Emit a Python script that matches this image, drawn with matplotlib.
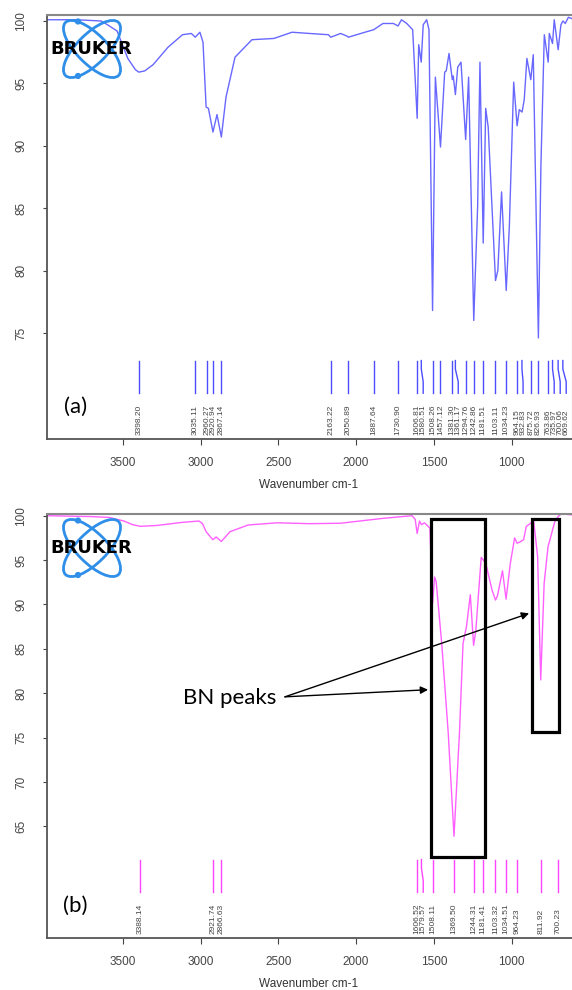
import matplotlib
matplotlib.use("Agg")
import matplotlib.pyplot as plt
import matplotlib.transforms as mtransforms
from matplotlib.patches import Ellipse, Circle, Rectangle


# panel (a): spectrum (wavenumber, % transmittance)
wn_a = [3992, 3800, 3640, 3600, 3538, 3469, 3420, 3398, 3360, 3306, 3210,
        3117, 3060, 3035, 3005, 2985, 2965, 2950, 2921, 2895, 2867, 2837,
        2779, 2670, 2529, 2412, 2300, 2178, 2163, 2100, 2060, 2050, 1943,
        1887, 1827, 1760, 1730, 1708, 1674, 1636, 1607, 1597, 1581, 1568,
        1546, 1531, 1508, 1490, 1457, 1430, 1420, 1402, 1381, 1375, 1361,
        1346, 1325, 1295, 1276, 1243, 1218, 1203, 1182, 1166, 1150, 1103,
        1088, 1064, 1034, 1014, 986, 964, 950, 932, 918, 901, 876, 860,
        827, 811, 789, 764, 757, 736, 725, 700, 682, 669, 654, 634, 614]
tr_a = [100.1, 100.1, 100.0, 99.7, 99.2, 97.0, 96.1, 95.9, 96.0, 96.5, 97.9,
        98.9, 99.0, 98.7, 99.1, 98.3, 93.1, 93.0, 91.1, 92.5, 90.7, 93.9,
        97.1, 98.5, 98.6, 99.1, 99.0, 98.9, 98.7, 99.0, 98.8, 98.7, 99.1,
        99.3, 99.8, 99.8, 99.6, 100.1, 99.8, 99.3, 92.2, 98.1, 96.7, 99.7,
        100.1, 99.3, 76.8, 95.5, 89.9, 95.9, 96.0, 97.4, 95.3, 95.6, 94.1,
        96.3, 96.7, 90.5, 95.5, 76.0, 85.1, 96.7, 82.2, 93.0, 91.5, 79.2,
        80.0, 86.3, 78.4, 83.5, 95.1, 91.6, 92.9, 92.7, 93.7, 97.0, 95.3, 97.3,
        74.6, 88.3, 98.9, 96.7, 99.0, 98.2, 100.1, 97.7, 99.7, 100.0, 99.8,
        100.3, 100.2]
peaks_a = [3398.20, 3035.11, 2960.27, 2920.94, 2867.14, 2163.22, 2050.89,
           1887.64, 1730.90, 1606.81, 1580.51, 1508.26, 1457.12, 1381.30,
           1361.17, 1294.76, 1242.86, 1181.51, 1103.11, 1034.23, 964.15,
           932.83, 875.72, 826.93, 763.86, 735.97, 700.06, 669.62]

# panel (b)
wn_b = [3992, 3700, 3587, 3494, 3440, 3388, 3281, 3117, 3011, 2988, 2965,
        2922, 2900, 2867, 2811, 2695, 2508, 2300, 2100, 1827, 1640, 1620,
        1607, 1592, 1580, 1560, 1525, 1508, 1495, 1485, 1449, 1407, 1370,
        1335, 1312, 1290, 1265, 1244, 1230, 1195, 1181, 1165, 1125, 1103,
        1090, 1058, 1035, 1008, 980, 964, 950, 922, 905, 880, 858, 832, 812,
        790, 765, 742, 722, 700, 680, 614]
tr_b = [100.0, 99.9, 99.8, 99.4, 99.0, 98.8, 98.9, 99.25, 99.4, 99.1, 98.2,
        97.3, 97.6, 97.1, 98.2, 98.95, 99.2, 99.1, 99.15, 99.7, 100.0, 99.6,
        98.0, 99.4, 99.0, 99.2, 98.6, 90.1, 93.1, 92.6, 85.6, 75.5, 63.9,
        75.5, 85.6, 87.5, 91.1, 85.4, 87.0, 95.3, 95.0, 94.6, 91.6, 90.5,
        91.0, 93.8, 90.6, 94.6, 97.5, 96.9, 97.0, 97.3, 98.8, 99.1, 99.5, 95.4,
        81.5, 92.4, 96.5, 98.0, 99.3, 99.9, 100.2, 100.1]
peaks_b = [3388.14, 2921.74, 2866.63, 1606.52, 1579.57, 1508.11, 1369.50,
           1244.31, 1181.41, 1103.32, 1034.51, 964.23, 811.92, 700.23]

XLIM = (3992, 614)
LABEL_GAP = 38.6  # min spacing of peak labels, cm-1


def draw_logo(fig, top_px):
    # Bruker logo approximated with two crossed ellipses
    lax = fig.add_axes([48 / 572, 1 - (top_px + 67) / 990, 87 / 572, 67 / 990])
    lax.set_xlim(0, 87)
    lax.set_ylim(67, 0)
    lax.axis("off")
    blue = "#2f8fe8"
    for ang in (45, -45):
        lax.add_patch(Ellipse((44, 34), 75, 30, angle=ang, fill=False,
                              ec=blue, lw=2.0))
    lax.add_patch(Circle((30, 6.5), 2.4, color=blue))
    lax.add_patch(Circle((30, 61), 2.4, color=blue))
    lax.text(43, 34, "BRUKER", ha="center", va="center", fontsize=13,
             fontweight="bold", color="black", family="DejaVu Sans")


def draw_panel(ax, wn, tr, peaks, color, ylim, yticks, tag):
    ax.plot(wn, tr, color=color, lw=1.0, alpha=0.85)
    ax.set_xlim(*XLIM)
    ax.set_ylim(*ylim)
    ax.set_xticks([3500, 3000, 2500, 2000, 1500, 1000])
    ax.set_yticks(yticks)
    ax.set_xlabel("Wavenumber cm-1", fontsize=8.5, color="#333333",
                  labelpad=7, family="Liberation Sans")
    ax.tick_params(axis="x", length=4, pad=9, labelsize=8.5,
                   colors="#444444")
    ax.tick_params(axis="y", length=3, pad=11, labelsize=8.5,
                   colors="#444444", labelrotation=90)
    for lab in ax.get_yticklabels():
        lab.set_va("center")
    for s in ("left", "bottom"):
        ax.spines[s].set_color("#555555")
        ax.spines[s].set_linewidth(1.3)
    ax.spines["top"].set_color("#888888")
    ax.spines["top"].set_linewidth(1.5)
    ax.spines["right"].set_color("#999999")

    # peak pick markers with spread-out labels
    trans = mtransforms.blended_transform_factory(ax.transData, ax.transAxes)
    pos = []
    for p in peaks:
        q = p
        if pos and q > pos[-1] - LABEL_GAP:
            q = pos[-1] - LABEL_GAP
        pos.append(q)
    for p, q in zip(peaks, pos):
        ax.plot([p, p, q, q], [0.185, 0.165, 0.135, 0.108], color=color,
                lw=1.0, transform=trans, clip_on=False)
        ax.text(q, 0.01, f"{p:.2f}", rotation=90, ha="center", va="bottom",
                fontsize=6, color="#444444", transform=trans,
                family="Liberation Sans")

    ax.text(0.055, 0.075, tag, transform=ax.transAxes, fontsize=16,
            family="Lato", ha="center", va="center")


plt.rcParams["font.family"] = ["Liberation Sans", "DejaVu Sans"]
fig = plt.figure(figsize=(5.72, 9.90), dpi=100)

ax_a = fig.add_axes([46.5 / 572, 1 - 439 / 990, 525 / 572, 424 / 990])
draw_panel(ax_a, wn_a, tr_a, peaks_a, "#4d4dff", (66.5, 100.48),
           [75, 80, 85, 90, 95, 100], "(a)")

ax_b = fig.add_axes([46.5 / 572, 1 - 938 / 990, 525 / 572, 424 / 990])
draw_panel(ax_b, wn_b, tr_b, peaks_b, "#ff44ff", (52.44, 100.19),
           [65, 70, 75, 80, 85, 90, 95, 100], "(b)")
ax_b.spines["right"].set_visible(False)

# BN peak boxes and annotation
ax_b.add_patch(Rectangle((1518, 61.6), 1170 - 1518, 99.6 - 61.6, fill=False,
                         ec="black", lw=2.3, zorder=5))
ax_b.add_patch(Rectangle((868, 75.6), 694 - 868, 99.6 - 75.6, fill=False,
                         ec="black", lw=2.3, zorder=5))
ax_b.text(2811, 79.5, "BN peaks", fontsize=16, family="Lato",
          ha="center", va="center")
for tip in [(1537, 80.4), (887, 89.0)]:
    ax_b.annotate("", xy=tip, xytext=(2458, 79.6),
                  arrowprops=dict(arrowstyle="-|>", color="black", lw=1.0,
                                  mutation_scale=11, shrinkA=0, shrinkB=0))

draw_logo(fig, 15)
draw_logo(fig, 514)

fig.savefig("out.png", dpi=100)
plt.close(fig)
